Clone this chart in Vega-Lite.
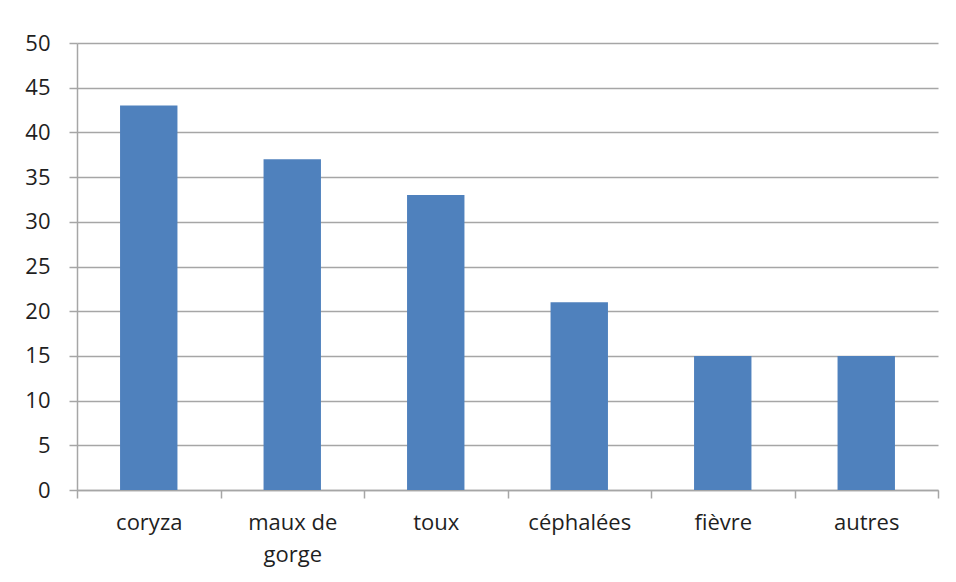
{
  "$schema": "https://vega.github.io/schema/vega-lite/v6.json",
  "autosize": "none",
  "width": 861,
  "height": 447,
  "padding": {"left": 77, "top": 43, "right": 18, "bottom": 92},
  "background": "white",
  "data": {"values": [
    {"symptome": "coryza", "valeur": 43},
    {"symptome": "maux de gorge", "valeur": 37},
    {"symptome": "toux", "valeur": 33},
    {"symptome": "céphalées", "valeur": 21},
    {"symptome": "fièvre", "valeur": 15},
    {"symptome": "autres", "valeur": 15}
  ]},
  "mark": {"type": "bar", "color": "#4f81bd", "width": {"band": 0.4}},
  "encoding": {
    "x": {
      "field": "symptome", "type": "nominal", "sort": null,
      "scale": {"paddingInner": 0, "paddingOuter": 0},
      "axis": {
        "title": null, "labelAngle": 0, "tickBand": "extent",
        "labelExpr": "datum.value == 'maux de gorge' ? ['maux de', 'gorge'] : datum.value",
        "labelLineHeight": 32, "labelPadding": 14,
        "labelFont": "Open Sans", "labelFontSize": 22, "labelColor": "#1f1f1f"
      }
    },
    "y": {
      "field": "valeur", "type": "quantitative",
      "scale": {"domain": [0, 50]},
      "axis": {"title": null, "values": [0,5,10,15,20,25,30,35,40,45,50], "grid": true, "labelPadding": 19,
        "labelFont": "Open Sans", "labelFontSize": 22, "labelColor": "#1f1f1f"}
    }
  },
  "config": {
    "view": {"stroke": null},
    "axis": {
      "domainColor": "#a6a6a6", "domainWidth": 1.5,
      "tickColor": "#a6a6a6", "tickWidth": 1.5, "tickSize": 8,
      "gridColor": "#a6a6a6", "gridWidth": 1.5
    }
  }
}
